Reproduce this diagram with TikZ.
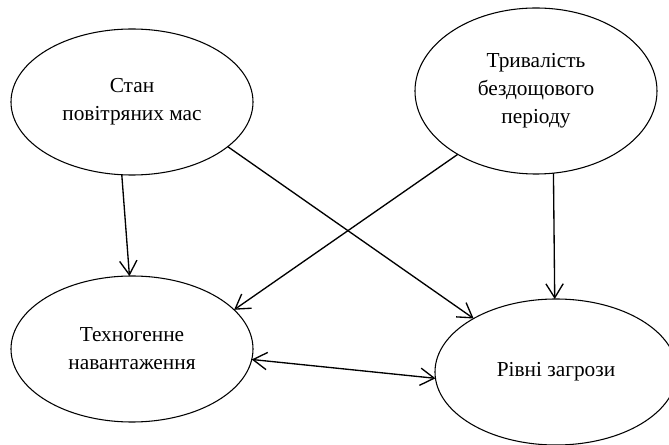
\documentclass[tikz,border=0pt]{standalone}
\usepackage{fontspec}
\setmainfont{Liberation Serif}
\usetikzlibrary{shapes.geometric,arrows.meta}
\begin{document}
\begin{tikzpicture}[x=0.75pt,y=-0.75pt,
  ell/.style={draw, ellipse, line width=0.8pt, minimum width=181.5pt,
    minimum height=109.5pt, inner sep=0pt, outer sep=0pt, align=center,
    font=\fontsize{16}{21}\selectfont},
  tip/.tip={Straight Barb[length=10.5pt,width=13pt]},
  conn/.style={line width=1pt, -tip},
  biconn/.style={line width=1pt, tip-tip}]
\useasboundingbox (0,0) rectangle (669,445);
\node[ell] (stan) at (132,102) {Стан\\повітряних мас};
\node[ell, minimum height=124.5pt] (tryv) at (536,91) {Тривалість\\бездощового\\періоду};
\node[ell] (tech) at (132,349) {Техногенне\\навантаження};
\node[ell] (rivni) at (556,372) {Рівні загрози};
\draw[conn] (stan.262) -- (tech.92);
\draw[conn] (stan.335.8) -- (rivni.147.3);
\draw[conn] (tryv.219.3) -- (tech.21.6);
\draw[conn] (tryv.282.2) -- (rivni.91.6);
\draw[biconn] (tech.355.7) -- (rivni.183.8);
\end{tikzpicture}
\end{document}
